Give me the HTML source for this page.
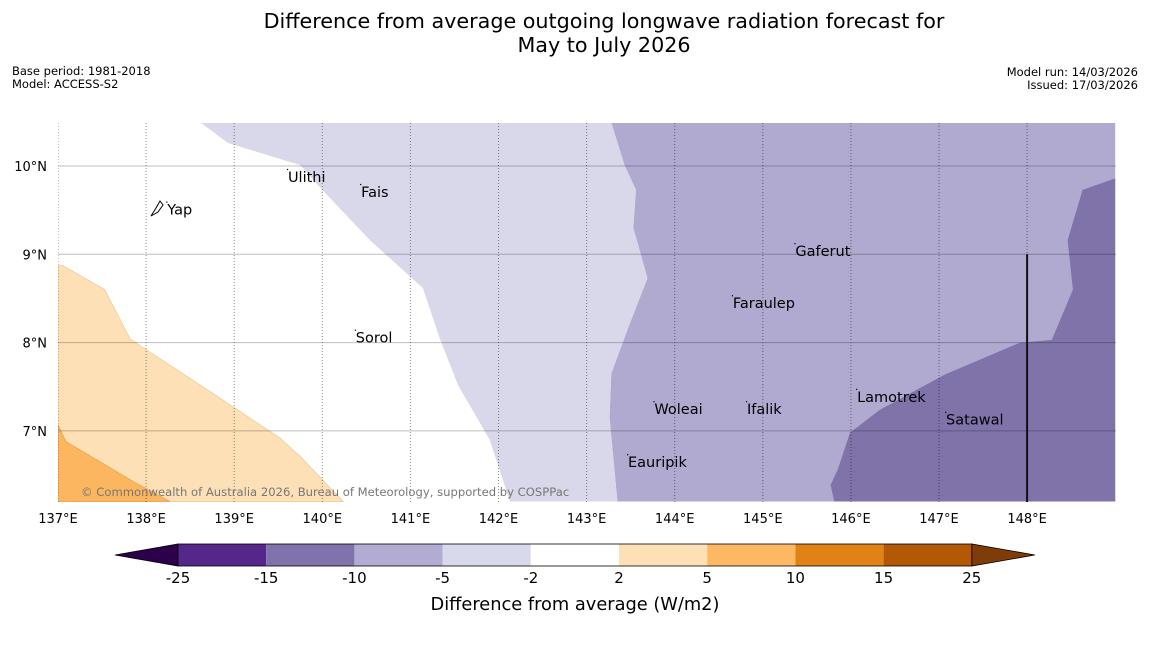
<!DOCTYPE html>
<html><head><meta charset="utf-8"><style>
body{margin:0;background:#fff;font-family:"Liberation Sans","DejaVu Sans",sans-serif}
</style></head><body>
<svg id="s" width="1150" height="644" viewBox="0 0 1150 644" xmlns="http://www.w3.org/2000/svg" font-family="DejaVu Sans, Liberation Sans, sans-serif">
<text x="604" y="28" font-size="20.7" text-anchor="middle">Difference from average outgoing longwave radiation forecast for</text>
<text x="604" y="52" font-size="20.7" text-anchor="middle">May to July 2026</text>
<text x="12" y="75" font-size="11.5">Base period: 1981-2018</text>
<text x="12" y="88" font-size="11.5">Model: ACCESS-S2</text>
<text x="1138" y="76" font-size="11.5" text-anchor="end">Model run: 14/03/2026</text>
<text x="1138" y="89" font-size="11.5" text-anchor="end">Issued: 17/03/2026</text>
<g id="map"></g>
<g id="cbar"></g>
<text x="575" y="610" font-size="17.8" text-anchor="middle">Difference from average (W/m2)</text>
</svg>
<script>
const lonTicks=[137,138,139,140,141,142,143,144,145,146,147,148];
const latTicks=[7,8,9,10];
const levels=[-25,-15,-10,-5,-2,2,5,10,15,25];
const levelColors=["#542788","#8073ac","#b2abd2","#d8daeb","#ffffff","#fee0b6","#fdb863","#e08214","#b35806"];
const lightLav=[[138.62,10.49],[138.93,10.26],[139.75,10.01],[140,9.73],[140.54,9.16],[141.14,8.62],[141.34,8.03],[141.54,7.52],[141.9,6.9],[142.13,6.2],[143.35,6.2],[143.26,7.15],[143.28,7.65],[143.48,8.19],[143.69,8.73],[143.53,9.3],[143.56,9.73],[143.43,10.01],[143.28,10.49]];
const midPurple=[[143.28,10.49],[149,10.49],[149,6.2],[143.35,6.2],[143.26,7.15],[143.28,7.65],[143.48,8.19],[143.69,8.73],[143.53,9.3],[143.56,9.73],[143.43,10.01]];
const darkPurple=[[149,9.86],[148.63,9.73],[148.46,9.16],[148.52,8.6],[148.28,8.03],[147.92,8.0],[147.07,7.64],[146.33,7.24],[145.99,6.98],[145.85,6.56],[145.77,6.39],[145.81,6.2],[149,6.2]];
const lightOrange=[[137,8.88],[137.06,8.87],[137.53,8.6],[137.82,8.04],[138.72,7.45],[139.52,6.92],[139.75,6.71],[140.24,6.2],[137,6.2]];
const darkOrange=[[137,7.07],[137.09,6.88],[137.85,6.43],[138.27,6.2],[137,6.2]];
const places=[["Ulithi",139.61,9.82],["Fais",140.44,9.65],["Yap",138.24,9.45],["Gaferut",145.37,8.98],["Faraulep",144.66,8.39],["Sorol",140.38,8.0],["Woleai",143.77,7.19],["Ifalik",144.82,7.19],["Lamotrek",146.07,7.33],["Satawal",147.08,7.07],["Eauripik",143.47,6.59]];
const X0=58,PX=88.1,Y0=166,PY=88.3,L=58,R=1116,T=123,B=502;
const sx=lon=>X0+(lon-137)*PX, sy=lat=>Y0+(10-lat)*PY;
const NS="http://www.w3.org/2000/svg";
function mk(t,a,p){const e=document.createElementNS(NS,t);for(const k in a)e.setAttribute(k,a[k]);p.appendChild(e);return e;}
const map=document.getElementById('map');
const cp=mk('clipPath',{id:'cl'},map);mk('rect',{x:L,y:T,width:R-L,height:B-T},cp);
const g=mk('g',{'clip-path':'url(#cl)'},map);
function poly(pts,fill,name,stroke){const e=mk('polygon',{points:pts.map(p=>sx(p[0])+','+sy(p[1])).join(' '),fill:fill,stroke:stroke||'none','stroke-width':0.6},g);

}
poly(midPurple,"#b0a9d0","contour-minus10-minus5");
poly(lightLav,"#d8d8ea","contour-minus5-minus2");
poly(darkPurple,"#8073aa","contour-minus15-minus10");
poly(lightOrange,"#fde0b6","contour-2-5","#e8c28e");
poly(darkOrange,"#fcb660","contour-5-10","#e49a45");
latTicks.forEach(v=>{const l=mk('line',{x1:L,x2:R,y1:sy(v),y2:sy(v),stroke:'#000','stroke-opacity':0.25,'stroke-width':1},g);


const t=mk('text',{x:47,y:sy(v)+5,'font-size':13,'text-anchor':'end'},map);t.textContent=v+'°N';

});
lonTicks.forEach(v=>{const l=mk('line',{x1:sx(v),x2:sx(v),y1:T,y2:B,stroke:'#000','stroke-opacity':0.45,'stroke-width':1,'stroke-dasharray':'1,2'},g);


const t=mk('text',{x:sx(v),y:523,'font-size':13,'text-anchor':'middle'},map);t.textContent=v+'°E';

});
const bl=mk('line',{x1:sx(148),x2:sx(148),y1:sy(9),y2:B,stroke:'#111','stroke-width':2},g);


places.forEach(p=>{const t=mk('text',{x:sx(p[1]),y:sy(p[2]),'font-size':14.5},map);t.textContent=p[0];


const d=mk('rect',{x:sx(p[1])-1,y:sy(p[2])-13,width:1.2,height:1.2,fill:'#000'},map);

});
const yap=mk('path',{d:'M151,216 L156,208 L160,201 L163,205 L158,212 Z',fill:'none',stroke:'#000','stroke-width':1},map);


const cr=mk('text',{x:81,y:496,'font-size':11.6,fill:'#777'},map);cr.textContent='© Commonwealth of Australia 2026, Bureau of Meteorology, supported by COSPPac';


const cb=document.getElementById('cbar');const cx0=178,cw=88.2,cy=544,ch=22,n=levelColors.length;
const lt=mk('polygon',{points:`115,${cy+ch/2} ${cx0},${cy} ${cx0},${cy+ch}`,fill:'#2d004b',stroke:'#000','stroke-width':0.8},cb);


const rx=cx0+n*cw;
const rt=mk('polygon',{points:`${rx+63},${cy+ch/2} ${rx},${cy} ${rx},${cy+ch}`,fill:'#7f3b08',stroke:'#000','stroke-width':0.8},cb);


levelColors.forEach((c,i)=>{const r=mk('rect',{x:cx0+i*cw,y:cy,width:cw,height:ch,fill:c},cb);

});
mk('rect',{x:cx0,y:cy,width:n*cw,height:ch,fill:'none',stroke:'#000','stroke-width':0.8},cb);
levels.forEach((v,i)=>{const t=mk('text',{x:cx0+i*cw,y:583,'font-size':15,'text-anchor':'middle'},cb);t.textContent=v;

});
</script>
</body></html>
